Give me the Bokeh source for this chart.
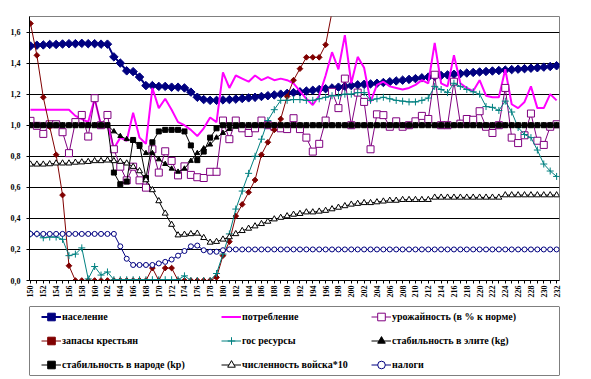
import math
from bokeh.plotting import figure
from bokeh.layouts import column
from bokeh.models import (Range1d, FixedTicker, CustomJSTickFormatter, Legend, LegendItem,
                          BoxAnnotation)
from bokeh.embed import file_html
from bokeh.resources import INLINE

years = list(range(150, 233))

naselenie = [1.51, 1.515, 1.517, 1.52, 1.52, 1.523, 1.525, 1.525, 1.527, 1.525,
             1.525, 1.522, 1.522, 1.44, 1.40, 1.35, 1.345, 1.31, 1.255, 1.255,
             1.25, 1.25, 1.245, 1.245, 1.24, 1.213, 1.18, 1.165, 1.16, 1.16,
             1.163, 1.165, 1.168, 1.172, 1.176, 1.18, 1.185, 1.19, 1.195, 1.2,
             1.205, 1.21, 1.215, 1.22, 1.225, 1.23, 1.235, 1.24, 1.245, 1.25,
             1.255, 1.26, 1.263, 1.266, 1.27, 1.275, 1.28, 1.285, 1.29, 1.295,
             1.30, 1.305, 1.31, 1.315, 1.32, 1.324, 1.328, 1.332, 1.336, 1.34,
             1.343, 1.346, 1.349, 1.352, 1.355, 1.358, 1.361, 1.364, 1.367, 1.37,
             1.374, 1.378, 1.383]

potreblenie = [1.10, 1.10, 1.10, 1.10, 1.10, 1.10, 1.10, 1.06, 1.04, 1.02,
               1.17, 1.0, 1.0, 0.85, 0.92, 0.90, 1.08, 0.92, 0.88, 1.24,
               1.11, 1.17, 1.10, 1.02, 1.0, 0.97, 0.93, 0.98, 1.05, 1.02,
               1.34, 1.24, 1.32, 1.30, 1.28, 1.32, 1.29, 1.31, 1.29, 1.30,
               1.29, 1.27, 1.22, 1.17, 1.13, 1.19, 1.32, 1.47, 1.36, 1.58,
               1.27, 1.44, 1.37, 1.15, 1.26, 1.28, 1.25, 1.24, 1.23, 1.24,
               1.26, 1.29, 1.27, 1.53, 1.27, 1.25, 1.45, 1.27, 1.24, 1.22,
               1.29, 1.19, 1.18, 1.18, 1.36, 1.135, 1.11, 1.15, 1.25, 1.11,
               1.11, 1.20, 1.16]

urozhainost = [1.028, 0.996, 0.944, 1.006, 1.006, 0.955, 0.82, 1.02, 1.066, 0.927,
               1.174, 1.0, 1.066, 0.845, 0.733, 0.645, 0.733, 0.645, 0.598, 0.845,
               0.695, 0.832, 0.77, 0.677, 0.735, 0.68, 0.665, 0.66, 0.70, 0.70,
               1.03, 0.91, 1.03, 0.98, 0.95, 0.98, 1.03, 1.0, 0.99, 0.98,
               0.975, 1.045, 0.975, 0.92, 0.83, 0.88, 1.03, 1.215, 1.11, 1.30,
               1.0, 1.21, 1.15, 0.845, 1.07, 1.065, 0.99, 1.025, 0.99, 1.0,
               1.025, 1.06, 1.04, 1.325, 1.0, 1.0, 1.28, 1.01, 1.04, 1.035,
               1.09, 0.99, 0.95, 1.0, 1.24, 0.92, 0.885, 0.935, 1.075, 0.90,
               0.873, 0.99, 1.006]

# peasant reserves leave the chart (above 1.7) after year 197
zapasy_years = list(range(150, 198))
zapasy = [1.655, 1.45, 1.18, 0.99, 0.81, 0.55, 0.095, 0.0, 0.0, 0.0,
          0.0, 0.0, 0.0, 0.0, 0.0, 0.0, 0.0, 0.0, 0.0, 0.08,
          0.0, 0.08, 0.08, 0.0, 0.0, 0.0, 0.0, 0.0, 0.0, 0.02,
          0.16, 0.25, 0.415, 0.49, 0.568, 0.647, 0.81, 0.89, 0.97, 1.04,
          1.185, 1.29, 1.364, 1.437, 1.437, 1.437, 1.518, 1.73]

gos_resursy = [0.30, 0.30, 0.275, 0.28, 0.28, 0.265, 0.16, 0.17, 0.21, 0.01,
               0.09, 0.035, 0.055, 0.005, 0.005, 0.005, 0.005, 0.005, 0.005, 0.005,
               0.005, 0.005, 0.005, 0.005, 0.03, 0.0, 0.0, 0.0, 0.0, 0.045,
               0.17, 0.30, 0.46, 0.576, 0.69, 0.80, 0.91, 1.03, 1.10, 1.16,
               1.16, 1.165, 1.165, 1.16, 1.16, 1.17, 1.18, 1.19, 1.19, 1.20,
               1.20, 1.21, 1.21, 1.16, 1.17, 1.18, 1.17, 1.16, 1.155, 1.15,
               1.15, 1.16, 1.175, 1.25, 1.23, 1.21, 1.27, 1.25, 1.23, 1.215,
               1.20, 1.12, 1.115, 1.095, 1.155, 1.085, 0.985, 0.94, 0.92, 0.84,
               0.75, 0.705, 0.67]

stab_elita = [1.0, 1.0, 1.0, 1.0, 1.0, 1.0, 1.0, 1.0, 1.0, 1.0,
              1.0, 1.0, 1.0, 0.96, 0.93, 0.91, 0.90, 0.86, 0.82, 0.82,
              0.78, 0.75, 0.72, 0.70, 0.72, 0.77, 0.82, 0.85, 0.875, 0.92,
              0.95, 0.975, 0.99, 1.0, 1.0, 1.0, 1.0, 1.0, 1.0, 1.0,
              1.0, 1.0, 1.0, 1.0, 1.0, 1.0, 1.0, 1.0, 1.0, 1.0,
              1.0, 1.0, 1.0, 1.0, 1.0, 1.0, 1.0, 1.0, 1.0, 1.0,
              1.0, 1.0, 1.0, 1.0, 1.0, 1.0, 1.0, 1.0, 1.0, 1.0,
              1.0, 1.0, 1.0, 1.0, 1.0, 1.0, 1.0, 1.0, 1.0, 1.0,
              1.0, 1.0, 1.0]

stab_narod = [1.0, 1.0, 1.0, 1.0, 1.0, 1.0, 1.0, 1.0, 1.0, 1.0,
              1.0, 1.0, 1.0, 0.695, 0.62, 0.637, 0.905, 0.873, 0.66, 0.89,
              0.96, 0.97, 0.97, 0.97, 0.96, 0.87, 0.775, 0.83, 0.92, 0.98,
              1.0, 1.0, 1.0, 1.0, 1.0, 1.0, 1.0, 1.0, 1.0, 1.0,
              1.0, 1.0, 1.0, 1.0, 1.0, 1.0, 1.0, 1.0, 1.0, 1.0,
              1.0, 1.0, 1.0, 1.0, 1.0, 1.0, 1.0, 1.0, 1.0, 1.0,
              1.0, 1.0, 1.0, 1.0, 1.0, 1.0, 1.0, 1.0, 1.0, 1.0,
              1.0, 1.0, 1.0, 1.0, 1.0, 1.0, 1.0, 1.0, 1.0, 1.0,
              1.0, 1.0, 1.0]

voisko = [0.748, 0.748, 0.748, 0.75, 0.755, 0.755, 0.755, 0.76, 0.762, 0.765,
          0.77, 0.77, 0.774, 0.77, 0.766, 0.755, 0.733, 0.705, 0.647, 0.583,
          0.512, 0.432, 0.36, 0.292, 0.296, 0.30, 0.303, 0.275, 0.245, 0.25,
          0.265, 0.28, 0.30, 0.32, 0.335, 0.35, 0.365, 0.38, 0.395, 0.405,
          0.415, 0.425, 0.43, 0.44, 0.44, 0.445, 0.45, 0.46, 0.47, 0.48,
          0.49, 0.495, 0.50, 0.50, 0.505, 0.51, 0.515, 0.515, 0.52, 0.52,
          0.52, 0.52, 0.52, 0.535, 0.535, 0.535, 0.535, 0.535, 0.535, 0.535,
          0.535, 0.535, 0.535, 0.535, 0.55, 0.55, 0.55, 0.55, 0.55, 0.55,
          0.55, 0.55, 0.55]

nalogi = [0.30, 0.30, 0.30, 0.30, 0.30, 0.30, 0.30, 0.30, 0.30, 0.30,
          0.30, 0.30, 0.30, 0.30, 0.22, 0.14, 0.10, 0.10, 0.10, 0.10,
          0.11, 0.12, 0.135, 0.16, 0.19, 0.22, 0.225, 0.195, 0.185, 0.185,
          0.195, 0.20, 0.20, 0.20, 0.20, 0.20, 0.20, 0.20, 0.20, 0.20,
          0.20, 0.20, 0.20, 0.20, 0.20, 0.20, 0.20, 0.20, 0.20, 0.20,
          0.20, 0.20, 0.20, 0.20, 0.20, 0.20, 0.20, 0.20, 0.20, 0.20,
          0.20, 0.20, 0.20, 0.20, 0.20, 0.20, 0.20, 0.20, 0.20, 0.20,
          0.20, 0.20, 0.20, 0.20, 0.20, 0.20, 0.20, 0.20, 0.20, 0.20,
          0.20, 0.20, 0.20]

labels = ["население", "потребление", "урожайность (в % к норме)",
          "запасы крестьян", "гос ресурсы", "стабильность в элите (kg)",
          "стабильность в народе (kp)", "численность войска*10", "налоги"]

y_ticks = [0.0, 0.2, 0.4, 0.6, 0.8, 1.0, 1.2, 1.4, 1.6]

FONT = "Liberation Serif"
D45 = math.pi / 4

# style per series: color, line width, marker, size, fill, marker angle
styles = [
    ("#000080", 2, "square", 6, "#000080", D45),
    ("#FF00FF", 2, None, 0, None, 0.0),
    ("#800080", 1, "square", 7, "white", 0.0),
    ("#800000", 1, "square", 4, "#800000", D45),
    ("#008080", 1, "cross", 7, None, 0.0),
    ("black", 1, "triangle", 5, "black", 0.0),
    ("black", 1, "square", 5, "black", 0.0),
    ("black", 1, "triangle", 6, "white", 0.0),
    ("#000080", 1, "circle", 5, "white", 0.0),
]
xdata = [years, years, years, zapasy_years, years, years, years, years, years]
ydata = [naselenie, potreblenie, urozhainost, zapasy, gos_resursy,
         stab_elita, stab_narod, voisko, nalogi]

# ---------------- main chart ----------------
p = figure(width=591, height=300, output_backend="svg", toolbar_location=None,
           x_range=Range1d(149.85, 232.45), y_range=Range1d(0, 1.7),
           min_border_left=29, min_border_right=30, min_border_top=16,
           min_border_bottom=18)
p.outline_line_color = "#808080"
p.background_fill_color = "white"
p.border_fill_color = "white"

p.xgrid.grid_line_color = None
p.ygrid.grid_line_color = "black"
p.ygrid.grid_line_width = 1
p.yaxis.ticker = FixedTicker(ticks=y_ticks)
p.yaxis.formatter = CustomJSTickFormatter(code="return tick.toFixed(1).replace('.', ',');")
p.xaxis.ticker = FixedTicker(ticks=years[::2], minor_ticks=years[1::2])
p.xaxis.major_label_orientation = math.pi / 2

for ax in (p.xaxis[0], p.yaxis[0]):
    ax.axis_line_color = "black"
    ax.major_tick_line_color = "black"
    ax.minor_tick_line_color = "black"
    ax.major_tick_in = 0
    ax.major_tick_out = 3
    ax.minor_tick_in = 0
    ax.minor_tick_out = 3
    ax.major_label_text_font = FONT
    ax.major_label_text_font_style = "bold"
    ax.major_label_text_font_size = "8px"
    ax.major_label_text_color = "black"
    ax.major_label_standoff = 2
p.yaxis.minor_tick_out = 0
p.yaxis.major_label_standoff = 6


def draw(fig, xs, ys, style):
    color, lw, marker, size, fill, ang = style
    rs = [fig.line(xs, ys, line_color=color, line_width=lw)]
    if marker is not None:
        rs.append(fig.scatter(xs, ys, marker=marker, size=size, line_color=color,
                              fill_color=fill, line_width=1, angle=ang))
    return rs

for xs, ys, st in zip(xdata, ydata, styles):
    draw(p, xs, ys, st)

# ---------------- legend box (the series' data lie outside this panel's range) --------
lf = figure(width=591, height=79, output_backend="svg", toolbar_location=None,
            x_range=Range1d(0, 1), y_range=Range1d(0, 1),
            x_axis_location=None, y_axis_location=None,
            min_border_left=23, min_border_right=32, min_border_top=6,
            min_border_bottom=4)
lf.grid.visible = False
lf.outline_line_color = None
lf.background_fill_color = "white"
lf.border_fill_color = "white"
lf.add_layout(BoxAnnotation(fill_alpha=0, line_color="black", line_width=1,
                            line_alpha=1))

legend_items = []
for lab, xs, ys, st in zip(labels, xdata, ydata, styles):
    legend_items.append(LegendItem(label=lab, renderers=draw(lf, xs, ys, st)))

col_x = [12, 192, 342]
for c in range(3):
    lg = Legend(items=[legend_items[c], legend_items[c + 3], legend_items[c + 6]],
                orientation="vertical", location=(col_x[c], 1))
    lg.label_text_font = FONT
    lg.label_text_font_style = "bold"
    lg.label_text_font_size = "10px"
    lg.label_text_color = "black"
    lg.glyph_width = 20
    lg.glyph_height = 19
    lg.label_height = 19
    lg.label_standoff = 1
    lg.spacing = 5
    lg.padding = 0
    lg.margin = 0
    lg.border_line_color = None
    lg.background_fill_alpha = 0
    lf.add_layout(lg, "center")

open("out.html", "w").write(file_html(column(p, lf), INLINE))
